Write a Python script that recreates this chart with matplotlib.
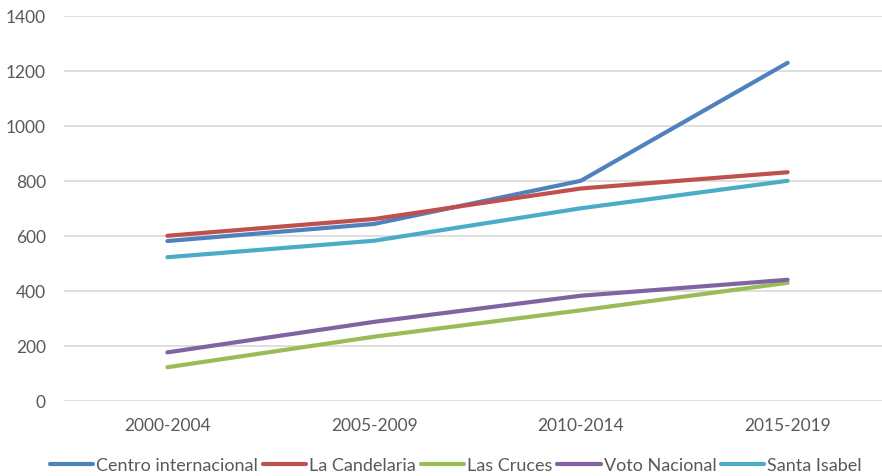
import matplotlib.pyplot as plt
from matplotlib.lines import Line2D

periods = ["2000-2004", "2005-2009", "2010-2014", "2015-2019"]
centro = [580, 642, 799, 1228]
candelaria = [599, 660, 771, 830]
cruces = [121, 232, 328, 428]
voto = [175, 286, 381, 439]
santa_isabel = [521, 581, 699, 799]

names = ["Centro internacional", "La Candelaria", "Las Cruces",
         "Voto Nacional", "Santa Isabel"]
colors = ["#4F81BD", "#C0504D", "#9BBB59", "#8064A2", "#4BACC6"]

plt.rcParams['font.family'] = ['Lato', 'DejaVu Sans']

fig = plt.figure(figsize=(8.82, 4.77), dpi=100)
ax = fig.add_axes([64 / 882, 75.5 / 477, 827 / 882, 385 / 477])

x = list(range(len(periods)))
series = [centro, candelaria, cruces, voto, santa_isabel]
for vals, c, n in zip(series, colors, names):
    ax.plot(x, vals, color=c, lw=3.0, solid_capstyle='round',
            solid_joinstyle='round', label=n, zorder=3)

ax.set_xlim(-0.5, 3.5)
ax.set_ylim(0, 1400)
ax.set_yticks(range(0, 1401, 200))
ax.set_xticks(x)
ax.set_xticklabels(periods)
ax.grid(axis='y', color='#d9d9d9', lw=1.2, zorder=0)
ax.tick_params(length=0, labelsize=12.5, labelcolor='#595959')
ax.tick_params(axis='x', pad=12)
ax.tick_params(axis='y', pad=13)
for s in ax.spines.values():
    s.set_visible(False)

handles = [Line2D([], [], color=c, lw=3.0, solid_capstyle='round') for c in colors]
fig.legend(handles, names, loc='center', bbox_to_anchor=(456 / 882, 1 - 466 / 477),
           ncol=5, frameon=False, fontsize=13, handlelength=2.4,
           handletextpad=0.16, columnspacing=0.27, labelcolor='#595959')

fig.savefig('out.png', dpi=100)
